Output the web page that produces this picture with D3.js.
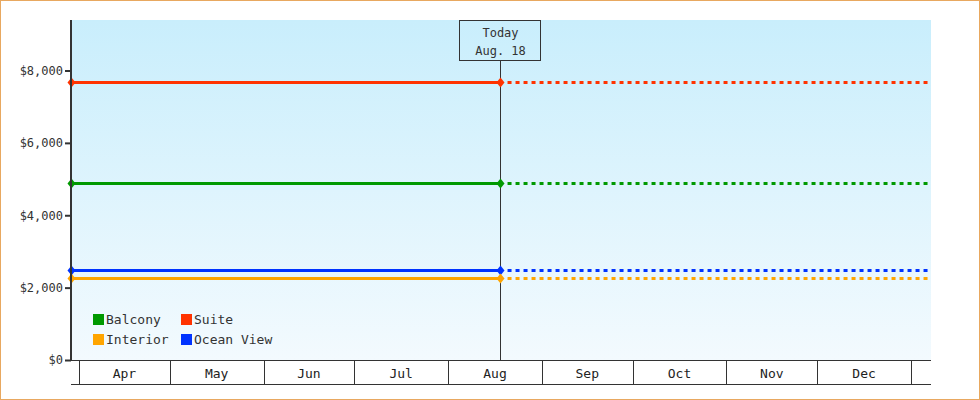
<!DOCTYPE html>
<html><head><meta charset="utf-8">
<script src="https://cdn.jsdelivr.net/npm/d3@7"></script>
<style>
body { margin: 0; }
svg { display: block; font-family: "DejaVu Sans Mono", monospace; }
</style></head>
<body><svg width="980" height="400"></svg>
<script>
var series = ["Balcony", "Suite", "Interior", "Ocean View"];
var colors = ["#009900", "#ff3300", "#ffa500", "#0033ff"];
var prices = [4890, 7680, 2270, 2490];
var months = ["Apr", "May", "Jun", "Jul", "Aug", "Sep", "Oct", "Nov", "Dec"];
var yTicks = [0, 2000, 4000, 6000, 8000];
var startDate = new Date(2023, 2, 29, 10);
var todayDate = new Date(2023, 7, 18);
var endDate = new Date(2024, 0, 7, 15);

var svg = d3.select("svg");
var mLeft = 71, mRight = 931, mTop = 20, mBottom = 360;

svg.append("rect").attr("x", 0.5).attr("y", 0.5).attr("width", 979).attr("height", 399)
    .attr("fill", "white").attr("stroke", "#e8a860");

var defs = svg.append("defs");
var grad = defs.append("linearGradient").attr("id", "bg")
    .attr("x1", 0).attr("y1", 0).attr("x2", 0).attr("y2", 1);
grad.append("stop").attr("offset", 0).attr("stop-color", "#c9eefc");
grad.append("stop").attr("offset", 1).attr("stop-color", "#f3fafe");
defs.append("clipPath").attr("id", "clip")
    .append("rect").attr("x", mLeft - 6).attr("y", mTop).attr("width", mRight - mLeft + 6).attr("height", mBottom - mTop);

svg.append("rect").attr("x", mLeft).attr("y", mTop).attr("width", mRight - mLeft).attr("height", mBottom - mTop)
    .attr("fill", "url(#bg)");

var x = d3.scaleTime().domain([new Date(2023, 3, 1), new Date(2024, 0, 1)]).range([79, 911]);
var y = d3.scaleLinear().domain([0, 8000]).range([mBottom, 70.5]);

// y axis
var yAxis = svg.append("g").attr("transform", `translate(${mLeft},0)`)
    .call(d3.axisLeft(y).tickValues(yTicks).tickSize(6).tickPadding(2).tickFormat(d => "$" + d3.format(",")(d)));
yAxis.select(".domain").remove();
yAxis.selectAll("line").attr("stroke", "#333").attr("stroke-width", 2);
yAxis.selectAll("text").attr("font-size", 12).attr("fill", "#333").attr("font-family", "DejaVu Sans Mono");

// x axis band
var monthStarts = d3.timeMonth.range(new Date(2023, 3, 1), new Date(2024, 1, 1));
var xa = svg.append("g");
xa.append("line").attr("x1", mLeft).attr("x2", mRight).attr("y1", mBottom + 0.5).attr("y2", mBottom + 0.5).attr("stroke", "#333");
xa.append("line").attr("x1", mLeft).attr("x2", mRight).attr("y1", 384.5).attr("y2", 384.5).attr("stroke", "#333");
xa.selectAll(".mt").data(monthStarts).join("line")
    .attr("x1", d => Math.round(x(d)) + 0.5).attr("x2", d => Math.round(x(d)) + 0.5)
    .attr("y1", mBottom).attr("y2", 384).attr("stroke", "#333");
xa.selectAll("text").data(months).join("text")
    .attr("x", (d, i) => (x(monthStarts[i]) + x(monthStarts[i + 1])) / 2)
    .attr("y", 378).attr("text-anchor", "middle").attr("font-size", 13).attr("fill", "#222")
    .text(d => d);

// today marker
var tx = Math.round(x(todayDate)) + 0.5;
svg.append("line").attr("x1", tx).attr("x2", tx).attr("y1", 60).attr("y2", mBottom).attr("stroke", "#333");
svg.append("rect").attr("x", 459.5).attr("y", 20.5).attr("width", 81).attr("height", 40)
    .attr("fill", "none").attr("stroke", "#333");
svg.append("text").attr("x", tx).attr("y", 37).attr("text-anchor", "middle").attr("font-size", 12).attr("fill", "#333").text("Today");
svg.append("text").attr("x", tx).attr("y", 55).attr("text-anchor", "middle").attr("font-size", 12).attr("fill", "#333").text("Aug. 18");

// lines
var lg = svg.append("g").attr("clip-path", "url(#clip)");
[0, 1, 3, 2].forEach(function (i) {
    var py = Math.round(y(prices[i])) + 0.5;
    lg.append("line").attr("x1", x(startDate)).attr("x2", x(todayDate)).attr("y1", py).attr("y2", py)
        .attr("stroke", colors[i]).attr("stroke-width", 3);
    lg.append("line").attr("x1", x(todayDate) + 8).attr("x2", x(endDate)).attr("y1", py).attr("y2", py)
        .attr("stroke", colors[i]).attr("stroke-width", 3).attr("stroke-dasharray", "4,4");
    [startDate, todayDate].forEach(function (d) {
        var cx = Math.max(mLeft, Math.round(x(d))) + 0.5;
        lg.append("path").attr("d", `M${cx},${py - 5}L${cx + 4},${py}L${cx},${py + 5}L${cx - 4},${py}Z`)
            .attr("fill", colors[i]);
    });
});
svg.append("line").attr("x1", mLeft).attr("x2", mLeft).attr("y1", mTop).attr("y2", mBottom + 1)
    .attr("stroke", "#333").attr("stroke-width", 2);

// legend
var legend = svg.append("g");
series.forEach(function (s, i) {
    var lx = 93 + (i % 2) * 88, ly = 314 + Math.floor(i / 2) * 20;
    legend.append("rect").attr("x", lx).attr("y", ly).attr("width", 11).attr("height", 11).attr("fill", colors[i]);
    legend.append("text").attr("x", lx + 13).attr("y", ly + 10).attr("font-size", 13).attr("fill", "#333").text(s);
});
</script></body></html>
